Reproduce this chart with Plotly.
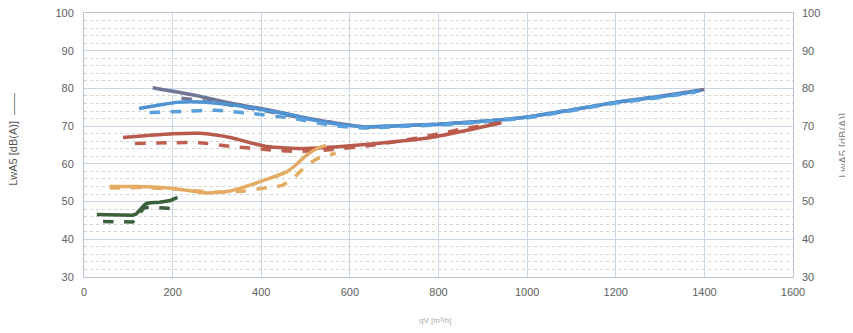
import plotly.graph_objects as go

# ---- data ----
gray_solid_x = [155, 250, 335, 420, 485, 560, 636, 710, 800, 900, 1000, 1100, 1200, 1300, 1400]
gray_solid_y = [80.2, 78.2, 76.0, 74.2, 72.6, 71.0, 69.8, 70.1, 70.5, 71.3, 72.4, 74.3, 76.3, 77.9, 79.7]

gray_dash_x = [220, 300, 411, 500, 560]
gray_dash_y = [77.4, 76.2, 74.0, 72.0, 71.0]

blue_solid_x = [124, 170, 209, 260, 335, 411, 470, 523, 580, 636, 710, 800, 900, 1000, 1100, 1200, 1300, 1390]
blue_solid_y = [74.7, 75.6, 76.3, 76.4, 75.6, 74.2, 72.9, 71.5, 70.4, 69.8, 70.1, 70.5, 71.3, 72.4, 74.3, 76.3, 77.8, 79.4]

blue_dash_x = [148, 220, 298, 373, 470, 560, 636, 710, 800, 900, 1000, 1100, 1200, 1300, 1380]
blue_dash_y = [73.6, 73.9, 74.2, 73.4, 72.1, 70.2, 69.5, 69.9, 70.3, 71.1, 72.2, 74.1, 76.1, 77.6, 79.0]

red_solid_x = [88, 150, 200, 261, 330, 411, 501, 580, 660, 784, 860, 942]
red_solid_y = [67.0, 67.6, 68.0, 68.1, 67.0, 64.6, 64.1, 64.6, 65.4, 67.0, 68.8, 70.9]

red_dash_x = [115, 200, 260, 335, 410, 485, 560, 640, 710, 790, 860, 930]
red_dash_y = [65.4, 65.6, 65.6, 64.6, 63.8, 63.3, 63.8, 64.8, 66.0, 67.7, 69.4, 70.7]

orange_solid_x = [58, 120, 200, 276, 330, 373, 420, 456, 480, 501, 525, 546]
orange_solid_y = [54.0, 54.0, 53.5, 52.3, 52.8, 54.3, 56.2, 57.8, 59.9, 62.2, 64.0, 64.9]

orange_dash_x = [58, 130, 210, 290, 360, 403, 447, 470, 490, 508, 530, 568]
orange_dash_y = [53.6, 53.7, 53.3, 52.5, 52.8, 53.5, 54.3, 56.0, 58.2, 60.0, 61.6, 62.8]

green_solid_x = [29, 70, 110, 118, 124, 130, 136, 141, 150, 171, 195, 211]
green_solid_y = [46.6, 46.5, 46.4, 46.7, 47.5, 48.4, 49.1, 49.5, 49.7, 49.8, 50.3, 51.1]

green_dash_x = [43, 88, 110, 118, 126, 132, 137, 150, 164, 190, 211]
green_dash_y = [44.7, 44.7, 44.6, 45.6, 47.0, 47.9, 48.4, 48.5, 48.4, 48.2, 48.0]

x_ticks = [0, 200, 400, 600, 800, 1000, 1200, 1400, 1600]
y_ticks = [30, 40, 50, 60, 70, 80, 90, 100]

series = [
    (gray_solid_x, gray_solid_y, "#6f7595", "solid", "spline"),
    (gray_dash_x, gray_dash_y, "#6f7595", "dash", "spline"),
    (blue_solid_x, blue_solid_y, "#4f93d3", "solid", "spline"),
    (blue_dash_x, blue_dash_y, "#5aa0dc", "dash", "spline"),
    (red_dash_x, red_dash_y, "#bf5f50", "dash", "spline"),
    (red_solid_x, red_solid_y, "#b85a4c", "solid", "spline"),
    (orange_solid_x, orange_solid_y, "#e3ac62", "solid", "spline"),
    (orange_dash_x, orange_dash_y, "#e3ac62", "dash", "spline"),
    (green_solid_x, green_solid_y, "#3c5f3c", "solid", "linear"),
    (green_dash_x, green_dash_y, "#3c5f3c", "dash", "linear"),
]

fig = go.Figure()
for xs, ys, col, dash, shape in series:
    line = dict(color=col, width=3.5, dash=dash, shape=shape)
    if shape == "spline":
        line["smoothing"] = 0.6
    fig.add_trace(go.Scatter(x=xs, y=ys, mode="lines", line=line,
                             showlegend=False, hoverinfo="skip"))

# invisible trace to enable right axis
fig.add_trace(go.Scatter(x=[0], y=[30], yaxis="y2", mode="markers",
                         marker=dict(opacity=0), showlegend=False, hoverinfo="skip"))

tickfont = dict(family="Liberation Sans, Arial, sans-serif", size=11, color="#606060")

fig.update_layout(
    width=853, height=333,
    margin=dict(l=76, r=68, t=5, b=64),
    paper_bgcolor="white", plot_bgcolor="white",
    xaxis=dict(range=[0, 1600], tickvals=x_ticks, ticktext=[str(v) for v in x_ticks],
               showgrid=True, gridcolor="#c9d6e6", gridwidth=1, automargin=False,
               showline=True, linecolor="#b8c4d4", mirror=True, ticklabeloverflow="allow",
               ticklabelstandoff=5,
               zeroline=False, tickfont=tickfont, ticks="", ticklen=0),
    yaxis=dict(range=[30, 100], tickvals=y_ticks, ticktext=[str(v) for v in y_ticks],
               showgrid=True, gridcolor="#c9d6e6", gridwidth=1, automargin=False,
               minor=dict(dtick=2, showgrid=True, gridcolor="#d2d2d2", griddash="dot", gridwidth=1),
               showline=True, linecolor="#b8c4d4", mirror=True, ticklabeloverflow="allow",
               ticklabelstandoff=7,
               zeroline=False, tickfont=tickfont, ticks=""),
    yaxis2=dict(range=[30, 100], tickvals=y_ticks, ticktext=[str(v) for v in y_ticks],
                overlaying="y", side="right", showgrid=False, zeroline=False, automargin=False,
                ticklabeloverflow="allow", ticklabelstandoff=8,
                tickfont=tickfont, ticks="", showline=False),
    annotations=[
        dict(text="LwA5 [dB(A)]  ——", textangle=-90, xref="paper", yref="paper",
             x=-0.1, y=0.52, xanchor="center", yanchor="middle", showarrow=False,
             font=dict(family="Liberation Sans, Arial, sans-serif", size=11, color="#555555")),
        dict(text="LwA5 [dB(A)]", textangle=-90, xref="paper", yref="paper",
             x=1.07, y=0.5, xanchor="center", yanchor="middle", showarrow=False,
             font=dict(family="Liberation Sans, Arial, sans-serif", size=11, color="#888888")),
        dict(text="qV [m³/h]", xref="paper", yref="paper",
             x=0.495, y=-0.14, xanchor="center", yanchor="top", showarrow=False,
             font=dict(family="Liberation Sans, Arial, sans-serif", size=8, color="#aaaaaa")),
    ],
)

fig.write_html("out.html")
